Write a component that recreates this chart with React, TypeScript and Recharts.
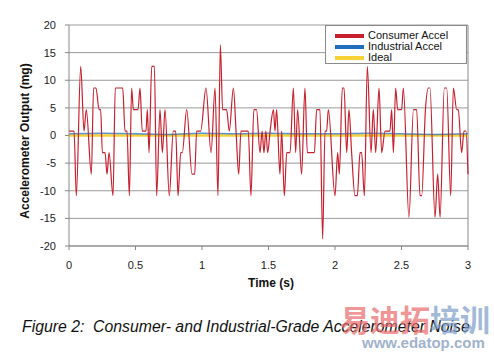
import React from 'react';
import { LineChart, Line, XAxis, YAxis, CartesianGrid, Legend, Label, ReferenceLine } from 'recharts';

const consumerTime = [
  0.000, 0.015, 0.038, 0.055, 0.088, 0.113, 0.130, 0.168, 0.185, 0.203,
  0.226, 0.238, 0.251, 0.271, 0.286, 0.301, 0.331, 0.348, 0.404, 0.421,
  0.436, 0.454, 0.471, 0.484, 0.519, 0.534, 0.551, 0.579, 0.589, 0.602,
  0.622, 0.642, 0.659, 0.684, 0.702, 0.722, 0.754, 0.784, 0.802, 0.820,
  0.840, 0.852, 0.885, 0.925, 0.945, 0.960, 0.990, 1.030, 1.068, 1.098,
  1.120, 1.138, 1.155, 1.185, 1.205, 1.236, 1.256, 1.276, 1.293, 1.348,
  1.368, 1.390, 1.410, 1.436, 1.452, 1.466, 1.480, 1.494, 1.512, 1.537,
  1.549, 1.561, 1.586, 1.599, 1.619, 1.637, 1.662, 1.687, 1.704, 1.719,
  1.749, 1.774, 1.792, 1.845, 1.862, 1.887, 1.907, 1.925, 1.937, 1.950,
  2.000, 2.020, 2.033, 2.055, 2.068, 2.088, 2.105, 2.125, 2.150, 2.168,
  2.188, 2.200, 2.221, 2.243, 2.271, 2.288, 2.306, 2.331, 2.351, 2.376,
  2.396, 2.413, 2.426, 2.439, 2.456, 2.471, 2.501, 2.514, 2.556, 2.590,
  2.614, 2.639, 2.652, 2.680, 2.702, 2.714, 2.752, 2.772, 2.790, 2.822,
  2.840, 2.870, 2.890, 2.915, 2.927, 2.952, 2.970, 2.985, 3.000,
];
const consumerValue = [
  0.8, 0.8, 0.8, -10.9, 12.5, 0.8, 4.7, -7, 8.6, 8.6,
  4.7, 4.7, -3.1, -3.1, -7, -3.1, -10.9, 8.6, 8.6, 0.8,
  0.8, -10.9, 8.6, 4.7, 4.7, 8.6, 0.8, 0.8, 4.7, -3.1,
  12.5, 12.5, -10.9, 4.7, -3.1, 4.7, -10.9, 0.8, 0.8, -10.9,
  -3.1, -3.1, 4.7, -7, -7, 0.8, 0.8, 8.6, -3.1, 8.6,
  -10.9, 16.4, 4.7, 4.7, 0.8, 8.6, 0.8, -7, 0.8, 0.8,
  -10.9, 4.7, 4.7, -3.1, 0.8, -3.1, 0.8, -3.1, 0.8, 4.7,
  0.8, 4.7, -7, 0.8, -10.9, -3.1, -3.1, 8.6, -3.1, 4.7,
  -7, 8.6, -3.1, -3.1, 4.7, 4.7, -18.7, 0.8, 0.8, 4.7,
  -10.9, -3.1, -7, 8.6, 8.6, -3.1, 4.7, -3.1, -10.9, -10.9,
  -3.1, -3.1, -10.9, 12.5, -3.1, 4.7, -3.1, 8.6, -3.1, 0.8,
  0.8, 0.8, 4.7, -3.1, 8.6, 4.7, 4.7, 8.6, -14.8, 4.7,
  4.7, -10.9, -10.9, 4.7, 8.6, 8.6, -14.8, -7, -14.8, 8.6,
  8.6, -10.9, 8.6, 4.7, 4.7, -3.1, 0.8, 0.8, -7,
];

const industrialTime = [0, 0.25, 0.5, 0.75, 1, 1.25, 1.5, 1.75, 2, 2.25, 2.5, 2.75, 3];
const industrialValue = [0.3, 0.4, 0.3, 0.2, 0.4, 0.3, 0.4, 0.3, 0.3, 0.4, 0.3, 0.2, 0.3];

const idealTime = [0, 3];
const idealValue = [0, 0];

const xTicks = [0, 0.5, 1, 1.5, 2, 2.5, 3];
const yTicks = [-20, -15, -10, -5, 0, 5, 10, 15, 20];

const seriesNames = ['Consumer Accel', 'Industrial Accel', 'Ideal'];
const seriesColors = ['#c8202f', '#1f6fc0', '#f7d235'];

const consumerData = consumerTime.map((t, i) => ({ t, v: consumerValue[i] }));
const industrialData = industrialTime.map((t, i) => ({ t, v: industrialValue[i] }));
const idealData = idealTime.map((t, i) => ({ t, v: idealValue[i] }));

const FONT = '"Liberation Sans", Arial, sans-serif';

const LegendBox = () => (
  <div
    style={{
      width: 142,
      height: 39,
      boxSizing: 'border-box',
      border: '1px solid #8a8a8a',
      background: '#fff',
      padding: '4px 0 0 9px',
      fontFamily: FONT,
      fontSize: 11,
      color: '#111',
    }}
  >
    {seriesNames.map((n, i) => (
      <div key={n} style={{ display: 'flex', alignItems: 'center', height: 11, lineHeight: '11px' }}>
        <span style={{ display: 'inline-block', width: 29, height: 4, background: seriesColors[i], marginRight: 4 }} />
        <span>{n}</span>
      </div>
    ))}
  </div>
);

export default function App() {
  return (
    <div style={{ position: 'absolute', left: 0, top: 0, width: 494, height: 354, background: '#fff', overflow: 'hidden' }}>
      <LineChart width={494} height={300} margin={{ top: 25, right: 26, bottom: 0, left: 0 }}>
        <CartesianGrid vertical={false} stroke="#9a9a9a" />
        <XAxis
          dataKey="t"
          type="number"
          domain={[0, 3]}
          ticks={xTicks}
          height={54}
          tickSize={4}
          tickMargin={11}
          stroke="#888"
          tick={{ fill: '#222', fontSize: 11, fontFamily: FONT }}
          allowDuplicatedCategory={false}
        >
          <Label
            content={() => (
              <text x={271} y={287} textAnchor="middle" fontFamily={FONT} fontWeight="bold" fontSize={12} fill="#111">
                Time (s)
              </text>
            )}
          />
        </XAxis>
        <YAxis
          dataKey="v"
          type="number"
          domain={[-20, 20]}
          ticks={yTicks}
          width={69}
          tickSize={4}
          tickMargin={9}
          stroke="#888"
          tick={{ fill: '#222', fontSize: 11, fontFamily: FONT }}
        >
          <Label
            content={() => (
              <text
                x={25}
                y={141}
                transform="rotate(-90 25 141)"
                textAnchor="middle"
                dominantBaseline="central"
                fontFamily={FONT}
                fontWeight="bold"
                fontSize={12}
                fill="#111"
              >
                Accelerometer Output (mg)
              </text>
            )}
          />
        </YAxis>
        <ReferenceLine x={3} stroke="#888" />
        <Line data={idealData} dataKey="v" type="linear" stroke={seriesColors[2]} strokeWidth={2.5} dot={false} isAnimationActive={false} name={seriesNames[2]} />
        <Line data={industrialData} dataKey="v" type="monotone" stroke={seriesColors[1]} strokeWidth={1.5} strokeOpacity={0.75} dot={false} isAnimationActive={false} name={seriesNames[1]} />
        <Line data={consumerData} dataKey="v" type="monotone" stroke={seriesColors[0]} strokeWidth={1.2} dot={false} isAnimationActive={false} name={seriesNames[0]} />
        <Legend
          layout="horizontal"
          verticalAlign="middle"
          align="center"
          content={() => <LegendBox />}
          wrapperStyle={{ position: 'absolute', left: 325, top: 25, width: 142, height: 39 }}
        />
      </LineChart>
      <div
        style={{
          position: 'absolute',
          left: 22,
          top: 318,
          fontFamily: FONT,
          fontStyle: 'italic',
          fontSize: 15.8,
          lineHeight: '18px',
          color: '#111',
          whiteSpace: 'nowrap',
        }}
      >
        Figure 2:&nbsp; Consumer- and Industrial-Grade Accelerometer Noise
      </div>
      <div
        style={{
          position: 'absolute',
          left: 340,
          top: 302,
          fontFamily: '"Noto Sans CJK SC", sans-serif',
          fontWeight: 'bold',
          fontSize: 30,
          lineHeight: '32px',
          whiteSpace: 'nowrap',
          opacity: 0.7,
        }}
      >
        <span style={{ color: '#ea6a6a' }}>易迪拓</span>
        <span style={{ color: '#7d9cc8' }}>培训</span>
      </div>
      <div
        style={{
          position: 'absolute',
          left: 362,
          top: 334,
          fontFamily: FONT,
          fontWeight: 'bold',
          fontSize: 15,
          lineHeight: '17px',
          color: '#9fb3cc',
          whiteSpace: 'nowrap',
        }}
      >
        www.edatop.com
      </div>
    </div>
  );
}
